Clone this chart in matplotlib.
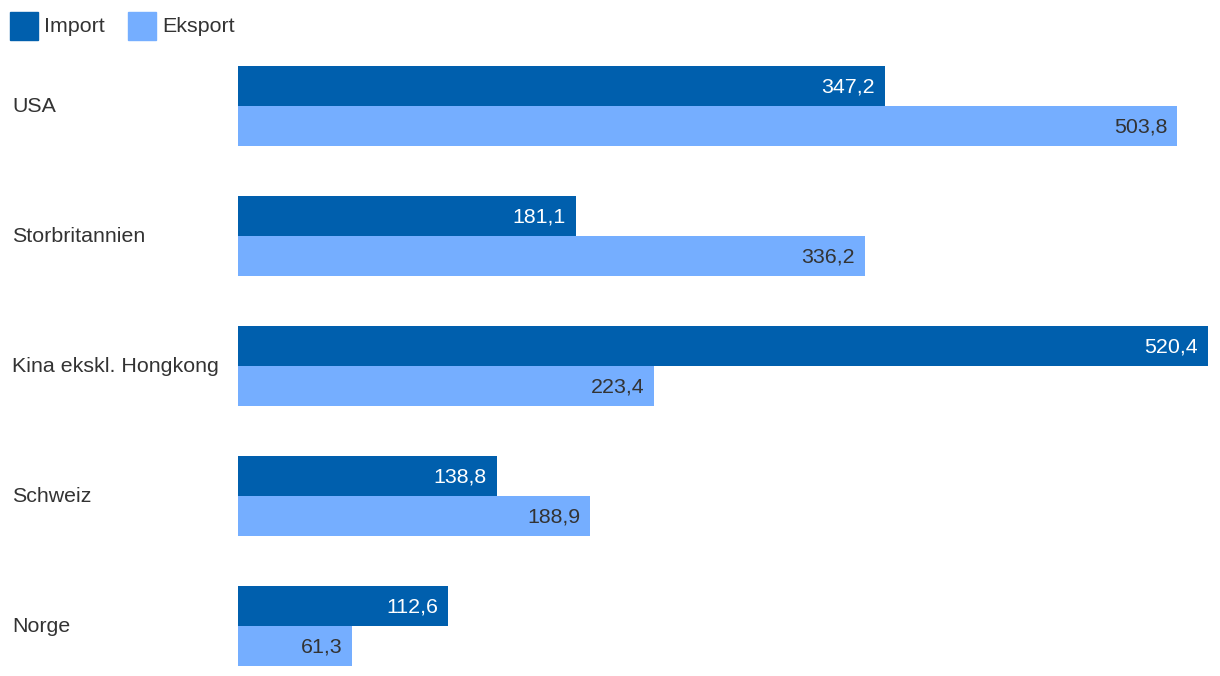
import matplotlib
matplotlib.use("Agg")
import matplotlib.pyplot as plt
from matplotlib.patches import Rectangle
from matplotlib.transforms import offset_copy

categories = ["USA", "Storbritannien", "Kina ekskl. Hongkong", "Schweiz", "Norge"]
import_vals = [347.2, 181.1, 520.4, 138.8, 112.6]
export_vals = [503.8, 336.2, 223.4, 188.9, 61.3]
series_names = ["Import", "Eksport"]

W, H = 1220, 676
plt.rcParams['font.family'] = ['Liberation Sans', 'DejaVu Sans']
fig = plt.figure(figsize=(W/100, H/100), dpi=100)

c_imp = "#005fad"
c_exp = "#75aeff"
txt = "#333333"
fs = 15.4

# axes spanning px x 238..1208, y 66..666
ax = fig.add_axes([238/W, 1-666/H, (1208-238)/W, 600/H])
bh = 40/130
ypos = list(range(len(categories)))
ax.barh([y - bh/2 for y in ypos], import_vals, height=bh, color=c_imp)
ax.barh([y + bh/2 for y in ypos], export_vals, height=bh, color=c_exp)
ax.set_xlim(0, max(import_vals))
ax.set_ylim(len(categories) - 1 + bh, -bh)
ax.axis("off")

tr = offset_copy(ax.transData, fig=fig, x=-10, y=-1, units="dots")
for y, v in zip(ypos, import_vals):
    ax.text(v, y - bh/2, f"{v:.1f}".replace(".", ","), transform=tr,
            ha="right", va="center", color="white", fontsize=fs)
for y, v in zip(ypos, export_vals):
    ax.text(v, y + bh/2, f"{v:.1f}".replace(".", ","), transform=tr,
            ha="right", va="center", color=txt, fontsize=fs)

# category labels
for y, c in zip(ypos, categories):
    ax.text(12/W, ax.transData.transform((0, y))[1] / H - 1/H, c, transform=fig.transFigure,
            ha="left", va="center", color=txt, fontsize=fs)

# legend
for x0, tx, col, name in [(10, 44, c_imp, series_names[0]), (128, 162, c_exp, series_names[1])]:
    fig.patches.append(Rectangle((x0/W, 1-40/H), 28/W, 28/H, transform=fig.transFigure,
                                 color=col, figure=fig))
    fig.text(tx/W, 1-27/H, name, ha="left", va="center", color=txt, fontsize=fs)

fig.savefig("out.png", dpi=100)
